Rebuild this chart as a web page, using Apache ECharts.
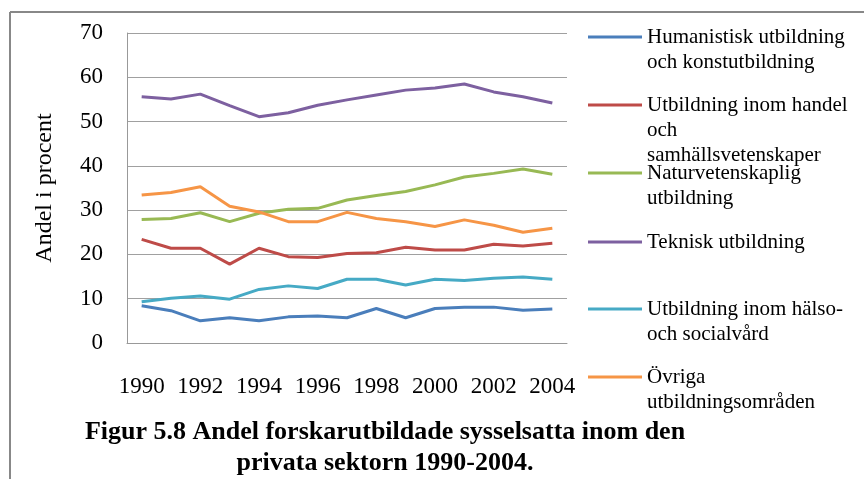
<!DOCTYPE html>
<html>
<head>
<meta charset="utf-8">
<script src="https://cdn.jsdelivr.net/npm/echarts@6/dist/echarts.min.js"></script>
<style>
  body { margin: 0; background: #fff; }
  #chart { width: 864px; height: 479px; }
</style>
</head>
<body>
<div id="chart"></div>
<script>
// data
const years = ['1990','1991','1992','1993','1994','1995','1996','1997','1998','1999','2000','2001','2002','2003','2004'];
const seriesNames = [
  'Humanistisk utbildning\noch konstutbildning',
  'Utbildning inom handel\noch\nsamhällsvetenskaper',
  'Naturvetenskaplig\nutbildning',
  'Teknisk utbildning',
  'Utbildning inom hälso-\noch socialvård',
  'Övriga\nutbildningsområden'
];
const humanistisk = [8.4, 7.3, 5.0, 5.7, 5.0, 5.9, 6.1, 5.7, 7.8, 5.7, 7.8, 8.1, 8.1, 7.4, 7.7];
const handel = [23.4, 21.4, 21.4, 17.8, 21.4, 19.5, 19.3, 20.2, 20.4, 21.6, 21.0, 21.0, 22.3, 21.9, 22.5];
const natur = [27.9, 28.1, 29.4, 27.4, 29.3, 30.2, 30.4, 32.3, 33.3, 34.2, 35.7, 37.5, 38.3, 39.3, 38.1];
const teknisk = [55.6, 55.1, 56.2, 53.6, 51.1, 52.0, 53.7, 54.9, 56.0, 57.1, 57.6, 58.5, 56.7, 55.6, 54.2];
const halso = [9.3, 10.1, 10.6, 9.9, 12.1, 12.9, 12.3, 14.4, 14.4, 13.1, 14.4, 14.1, 14.6, 14.9, 14.4];
const ovriga = [33.4, 34.0, 35.3, 30.9, 29.6, 27.4, 27.4, 29.5, 28.1, 27.4, 26.3, 27.8, 26.6, 25.0, 25.9];

const values = [humanistisk, handel, natur, teknisk, halso, ovriga];
const colors = ['#4a7ebb', '#be4b48', '#98b954', '#7d60a0', '#46aac5', '#f69546'];

// legend layout: y of each legend line symbol
const legendY = [37, 105, 173, 242, 309, 377];
const lh = 25;
const serif = '"Liberation Serif", "Times New Roman", serif';

// one legend per entry so the first text line sits on the line symbol
const legends = seriesNames.map((name, i) => {
  const n = name.split('\n').length;
  const boxH = (2 * n - 1) * lh;
  return {
    data: [name],
    left: 588,
    top: legendY[i] - boxH / 2,
    padding: 0,
    icon: 'rect',
    itemWidth: 54,
    itemHeight: 3,
    itemGap: 0,
    formatter: (nm) => '\n'.repeat(n - 1) + nm,
    textStyle: {
      fontFamily: serif,
      fontSize: 21,
      color: '#000',
      lineHeight: lh
    }
  };
});

const chart = echarts.init(document.getElementById('chart'));
chart.setOption({
  backgroundColor: '#fff',
  animation: false,
  title: {
    text: 'Figur 5.8 Andel forskarutbildade sysselsatta inom den\nprivata sektorn 1990-2004.',
    left: 385,
    top: 417,
    textAlign: 'center',
    padding: 0,
    textStyle: {
      fontFamily: serif,
      fontSize: 26,
      fontWeight: 'bold',
      color: '#000',
      lineHeight: 31
    }
  },
  legend: legends,
  grid: { left: 127, right: 297, top: 33, bottom: 136 },
  xAxis: {
    type: 'category',
    data: years,
    boundaryGap: true,
    axisLine: { lineStyle: { color: '#999', width: 1 } },
    axisTick: { show: false },
    axisLabel: {
      interval: 1,
      margin: 32,
      fontFamily: serif,
      fontSize: 23,
      color: '#000'
    }
  },
  yAxis: {
    type: 'value',
    min: 0,
    max: 70,
    interval: 10,
    name: 'Andel i procent',
    nameLocation: 'middle',
    nameGap: 70,
    nameTextStyle: { fontFamily: serif, fontSize: 24, color: '#000' },
    axisLine: { show: true, lineStyle: { color: '#999', width: 1 } },
    axisTick: { show: false },
    axisLabel: { margin: 24, fontFamily: serif, fontSize: 23, color: '#000' },
    splitLine: { lineStyle: { color: '#a0a0a0', width: 1 } }
  },
  series: seriesNames.map((name, i) => ({
    name: name,
    type: 'line',
    data: values[i],
    showSymbol: false,
    symbol: 'none',
    color: colors[i],
    lineStyle: { width: 3, color: colors[i] }
  })),
  graphic: [
    { type: 'line', shape: { x1: 10, y1: 12, x2: 864, y2: 12 }, style: { stroke: '#888', lineWidth: 2 } },
    { type: 'line', shape: { x1: 10, y1: 12, x2: 10, y2: 479 }, style: { stroke: '#888', lineWidth: 2 } }
  ]
});
</script>
</body>
</html>
